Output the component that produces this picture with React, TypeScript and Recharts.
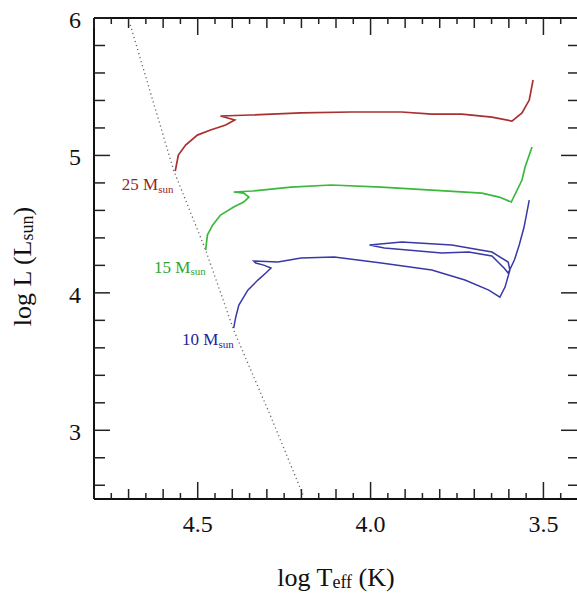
import React from 'react';
import { ComposedChart, Line, XAxis, YAxis, Scatter } from 'recharts';

// log Teff, log L points
const track25 = [
  { x: 4.565, y: 4.886 }, { x: 4.556, y: 5.003 }, { x: 4.535, y: 5.076 }, { x: 4.501, y: 5.148 },
  { x: 4.463, y: 5.185 }, { x: 4.419, y: 5.221 }, { x: 4.393, y: 5.258 }, { x: 4.434, y: 5.287 },
  { x: 4.347, y: 5.294 }, { x: 4.201, y: 5.309 }, { x: 4.056, y: 5.316 }, { x: 3.910, y: 5.316 },
  { x: 3.823, y: 5.301 }, { x: 3.736, y: 5.301 }, { x: 3.649, y: 5.279 }, { x: 3.591, y: 5.250 },
  { x: 3.562, y: 5.309 }, { x: 3.541, y: 5.403 }, { x: 3.530, y: 5.549 },
];

const track15 = [
  { x: 4.477, y: 4.311 }, { x: 4.472, y: 4.421 }, { x: 4.457, y: 4.493 }, { x: 4.434, y: 4.566 },
  { x: 4.396, y: 4.624 }, { x: 4.367, y: 4.661 }, { x: 4.352, y: 4.697 }, { x: 4.367, y: 4.726 },
  { x: 4.396, y: 4.734 }, { x: 4.341, y: 4.741 }, { x: 4.230, y: 4.770 }, { x: 4.114, y: 4.785 },
  { x: 3.969, y: 4.770 }, { x: 3.823, y: 4.748 }, { x: 3.678, y: 4.726 }, { x: 3.628, y: 4.697 },
  { x: 3.593, y: 4.661 }, { x: 3.562, y: 4.821 }, { x: 3.553, y: 4.916 }, { x: 3.533, y: 5.061 },
];

const track10 = [
  { x: 4.396, y: 3.744 }, { x: 4.390, y: 3.824 }, { x: 4.381, y: 3.911 }, { x: 4.355, y: 4.020 },
  { x: 4.326, y: 4.093 }, { x: 4.303, y: 4.144 }, { x: 4.288, y: 4.181 }, { x: 4.309, y: 4.202 },
  { x: 4.332, y: 4.217 }, { x: 4.338, y: 4.231 }, { x: 4.268, y: 4.224 }, { x: 4.201, y: 4.253 },
  { x: 4.105, y: 4.261 }, { x: 3.969, y: 4.217 }, { x: 3.823, y: 4.166 }, { x: 3.727, y: 4.093 },
  { x: 3.658, y: 4.020 }, { x: 3.626, y: 3.969 }, { x: 3.611, y: 4.042 }, { x: 3.597, y: 4.166 },
  { x: 3.602, y: 4.224 }, { x: 3.649, y: 4.297 }, { x: 3.765, y: 4.348 }, { x: 3.910, y: 4.370 },
  { x: 4.003, y: 4.348 }, { x: 3.960, y: 4.326 }, { x: 3.794, y: 4.290 }, { x: 3.716, y: 4.297 },
  { x: 3.649, y: 4.268 }, { x: 3.614, y: 4.181 }, { x: 3.602, y: 4.144 }, { x: 3.584, y: 4.239 },
  { x: 3.570, y: 4.348 }, { x: 3.556, y: 4.479 }, { x: 3.541, y: 4.675 },
];

const zams = [
  { x: 4.695, y: 5.95 }, { x: 4.570, y: 4.894 }, { x: 4.477, y: 4.311 },
  { x: 4.396, y: 3.729 }, { x: 4.288, y: 3.096 }, { x: 4.195, y: 2.528 },
];

const massLabels = [
  { mass: '25', x: 4.570, y: 4.785, color: '#9a2424' },
  { mass: '15', x: 4.477, y: 4.188, color: '#2ea52e' },
  { mass: '10', x: 4.396, y: 3.657, color: '#24249a' },
];

const xTicks = [
  3.4, 3.45, 3.5, 3.55, 3.6, 3.65, 3.7, 3.75, 3.8, 3.85, 3.9, 3.95, 4.0, 4.05, 4.1,
  4.15, 4.2, 4.25, 4.3, 4.35, 4.4, 4.45, 4.5, 4.55, 4.6, 4.65, 4.7, 4.75, 4.8,
];
const xLabelTicks = [4.5, 4.0, 3.5];
const yTicks = [2.6, 2.8, 3.0, 3.2, 3.4, 3.6, 3.8, 4.0, 4.2, 4.4, 4.6, 4.8, 5.0, 5.2, 5.4, 5.6, 5.8, 6.0];
const yLabelTicks = [3, 4, 5, 6];

const FONT = '"Liberation Serif", "Times New Roman", Times, serif';

const CHART_W = 571;
const CHART_H = 585;
const MARGIN = { top: 9, right: 0, bottom: 34, left: 26 };
const Y_AXIS_W = 60;
const PLOT_W = CHART_W - MARGIN.left - MARGIN.right - Y_AXIS_W - 1;

const near = (a: number, b: number) => Math.abs(a - b) < 1e-6;

function xClass(v: number) {
  const r = Math.round(v * 20);
  if (r % 10 === 0) return 'major';
  if (r % 2 === 0) return 'mid';
  return 'minor';
}
const xLen: Record<string, number> = { major: 17, mid: 10, minor: 6 };

function makeXTick(side: 'top' | 'bottom') {
  return (props: any) => {
    const { x, y, payload } = props;
    const v = payload.value as number;
    const len = xLen[xClass(v)];
    const dir = side === 'bottom' ? -1 : 1;
    const showLabel = side === 'bottom' && xLabelTicks.some((t) => near(t, v));
    return (
      <g>
        <line x1={x} y1={y} x2={x} y2={y + dir * len} stroke="#222" strokeWidth={1.5} />
        {showLabel && (
          <text x={x} y={y + 25} textAnchor="middle" dominantBaseline="central"
            fontFamily={FONT} fontSize={24} fill="#111">{v.toFixed(1)}</text>
        )}
      </g>
    );
  };
}

const YTick = (props: any) => {
  const { x, y, payload } = props;
  const v = payload.value as number;
  const isInt = yLabelTicks.some((t) => near(t, v));
  const len = isInt ? 16 : 11;
  const rx = Number(x) + PLOT_W;
  return (
    <g>
      <line x1={x} y1={y} x2={x + len} y2={y} stroke="#222" strokeWidth={1.5} />
      <line x1={rx} y1={y} x2={rx - (isInt ? 17 : 10)} y2={y} stroke="#222" strokeWidth={1.5} />
      {isInt && (
        <text x={x - 13} y={y + 2} textAnchor="end" dominantBaseline="central"
          fontFamily={FONT} fontSize={24} fill="#111">{String(Math.round(v))}</text>
      )}
    </g>
  );
};

const MassLabel = (props: any) => {
  const { cx, cy, payload } = props;
  return (
    <text x={cx} y={cy} textAnchor="end" dominantBaseline="central" fontFamily={FONT}
      fontSize={17} fill={payload.color}>
      {payload.mass} M<tspan fontSize={11} dy={4}>sun</tspan>
    </text>
  );
};

const XTitle = (p: any) => {
  const vb = p.viewBox || {};
  const cx = vb.x + vb.width / 2;
  const cy = vb.y + 78;
  return (
    <text x={cx} y={cy} textAnchor="middle" dominantBaseline="central" fontFamily={FONT} fontSize={26} fill="#111">
      log T<tspan fontSize={18} dy={5}>eff</tspan><tspan dy={-5}> (K)</tspan>
    </text>
  );
};

const YTitle = (p: any) => {
  const vb = p.viewBox || {};
  const cx = vb.x - 12;
  const cy = vb.y + vb.height / 2 + 8;
  return (
    <text x={cx} y={cy} transform={`rotate(-90, ${cx}, ${cy})`} textAnchor="middle"
      dominantBaseline="central" fontFamily={FONT} fontSize={26} fill="#111">
      log L (L<tspan fontSize={18} dy={5}>sun</tspan><tspan dy={-5}>)</tspan>
    </text>
  );
};

export default function App() {
  return (
    <div style={{ padding: '8px 0 0 8px', width: 569, height: CHART_H, overflow: 'hidden' }}>
      <style>{'html { overflow: hidden; } body { margin: 0; }'}</style>
      <ComposedChart width={CHART_W} height={CHART_H} margin={MARGIN}>
        <XAxis dataKey="x" type="number" domain={[3.4, 4.8]} reversed allowDataOverflow
          ticks={xTicks} interval={0} tickSize={0} tickMargin={0} tickLine={false}
          axisLine={{ stroke: '#111', strokeWidth: 2 }} height={60}
          tick={makeXTick('bottom')} label={{ content: XTitle }} />
        <XAxis xAxisId="top" orientation="top" dataKey="x" type="number" domain={[3.4, 4.8]} reversed
          allowDataOverflow ticks={xTicks} interval={0} tickSize={0} tickMargin={0} tickLine={false}
          axisLine={{ stroke: '#111', strokeWidth: 2 }} height={1} tick={makeXTick('top')} />
        <YAxis dataKey="y" type="number" domain={[2.5, 6]} allowDataOverflow ticks={yTicks} interval={0}
          tickSize={0} tickMargin={0} tickLine={false} axisLine={{ stroke: '#111', strokeWidth: 2 }}
          width={Y_AXIS_W} tick={YTick} label={{ content: YTitle }} />
        <YAxis yAxisId="right" orientation="right" dataKey="y" type="number" domain={[2.5, 6]}
          allowDataOverflow ticks={yTicks} interval={0} tickSize={0} tickMargin={0} tickLine={false}
          axisLine={{ stroke: '#111', strokeWidth: 2 }} width={1} tick={false} />
        <Line data={zams} dataKey="y" type="linear" stroke="#666" strokeWidth={1.3}
          strokeDasharray="1.2 3" dot={false} activeDot={false} isAnimationActive={false} />
        <Line data={track25} dataKey="y" type="linear" stroke="#a8302f" strokeWidth={1.7}
          dot={false} activeDot={false} isAnimationActive={false} />
        <Line data={track15} dataKey="y" type="linear" stroke="#3cb83c" strokeWidth={1.7}
          dot={false} activeDot={false} isAnimationActive={false} />
        <Line data={track10} dataKey="y" type="linear" stroke="#3838a8" strokeWidth={1.5}
          dot={false} activeDot={false} isAnimationActive={false} />
        <Scatter data={massLabels} dataKey="y" shape={MassLabel} isAnimationActive={false} />
      </ComposedChart>
    </div>
  );
}
